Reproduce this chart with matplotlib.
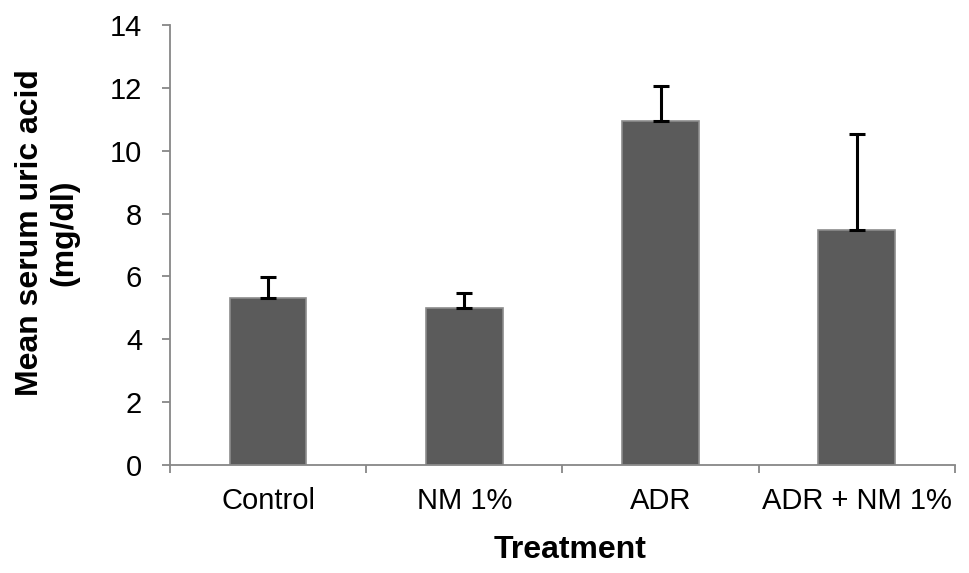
import numpy as np
import matplotlib.pyplot as plt

plt.rcParams['font.family'] = ['Liberation Sans', 'DejaVu Sans']

# data
groups = ["Control", "NM 1%", "ADR", "ADR + NM 1%"]
means = [5.3, 5.0, 10.95, 7.48]
errs = [0.68, 0.48, 1.1, 3.05]

fig = plt.figure(figsize=(9.69, 5.73), dpi=100)
ax = fig.add_axes([0.1754, 0.1885, 0.81, 0.7679])

x = np.arange(len(groups))
ax.bar(x, means, width=0.39, color="#5b5b5b", edgecolor="#8c8c8c", linewidth=1.2, zorder=2)
# plus-only error bars, caps at both ends like Excel
ax.errorbar(x, means, yerr=[np.zeros(len(errs)), errs], fmt="none",
            ecolor="black", elinewidth=2.2, capsize=5.8, capthick=2.2, zorder=3)

ax.set_xlim(-0.5, len(groups) - 0.5)
ax.set_ylim(0, 14)
ax.set_yticks(np.arange(0, 15, 2))

# ticks at category boundaries, labels at centres
ax.set_xticks(np.arange(-0.5, len(groups), 1.0))
ax.set_xticklabels([])
ax.set_xticks(x, minor=True)
ax.set_xticklabels(groups, minor=True)
ax.tick_params(axis="x", which="major", direction="out", length=6, width=1.3, color="#878787")
ax.tick_params(axis="x", which="minor", length=0, pad=16, labelsize=21)
ax.tick_params(axis="y", direction="out", length=6, width=1.3, color="#878787", pad=14, labelsize=21)

for side in ["top", "right"]:
    ax.spines[side].set_visible(False)
for side in ["left", "bottom"]:
    ax.spines[side].set_color("#878787")
    ax.spines[side].set_linewidth(1.3)

ax.set_ylabel("Mean serum uric acid\n(mg/dl)", fontsize=23, fontweight="bold", linespacing=1.2)
ax.yaxis.set_label_coords(-0.115, 0.527)
ax.set_xlabel("Treatment", fontsize=23, fontweight="bold")
ax.xaxis.set_label_coords(0.51, -0.158)

fig.savefig("out.png", dpi=100)
